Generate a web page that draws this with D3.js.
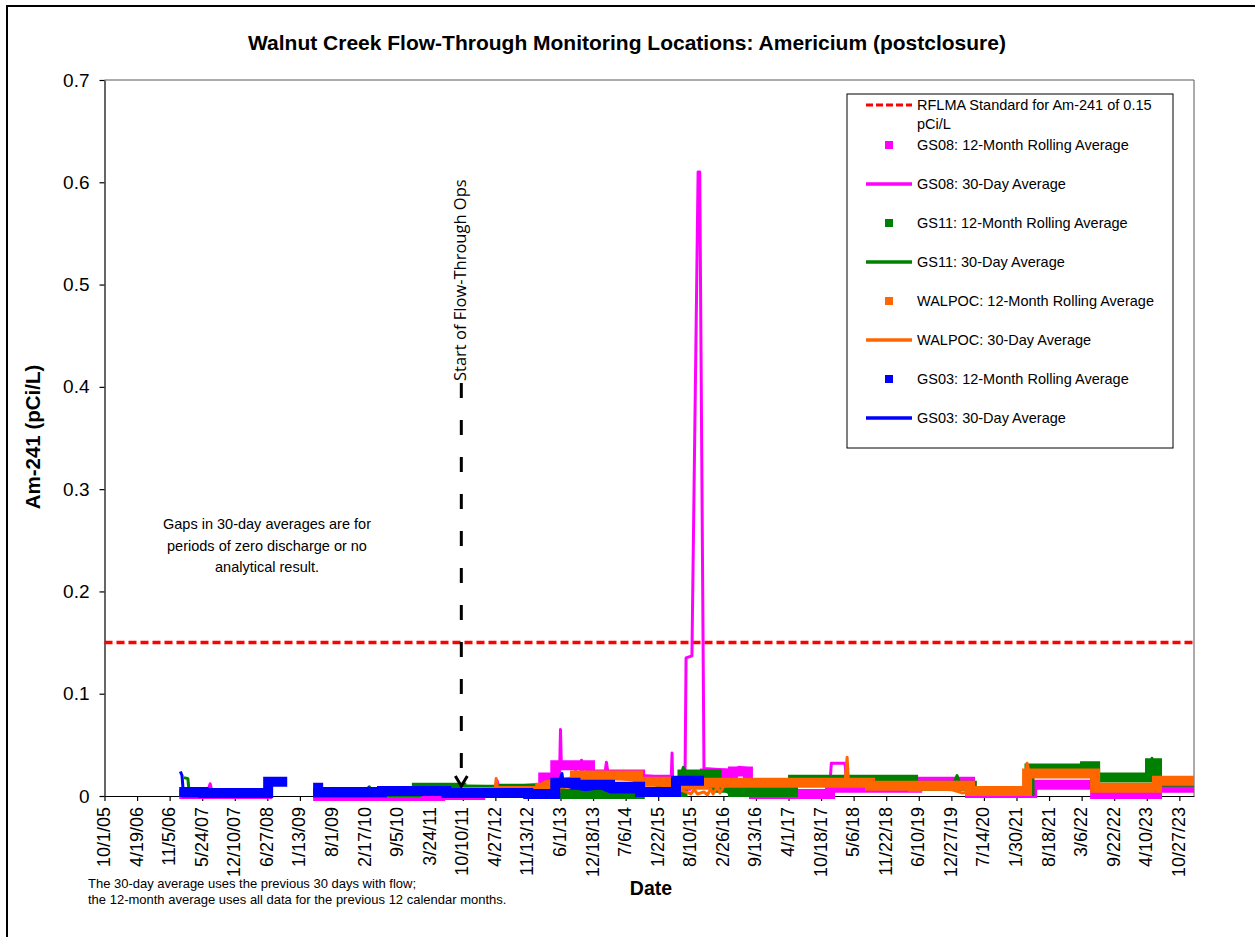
<!DOCTYPE html>
<html>
<head>
<meta charset="utf-8">
<script src="https://cdn.jsdelivr.net/npm/d3@7"></script>
<style>
  body { margin: 0; background: #fff; }
  svg { display: block; font-family: "Liberation Sans", Arial, sans-serif; }
</style>
</head>
<body>
<svg id="chart"></svg>
<script>
// Tick labels (every 200 days, as in the original)
const X_TICKS = ["10/1/05", "4/19/06", "11/5/06", "5/24/07", "12/10/07", "6/27/08", "1/13/09", "8/1/09",
  "2/17/10", "9/5/10", "3/24/11", "10/10/11", "4/27/12", "11/13/12", "6/1/13", "12/18/13", "7/6/14",
  "1/22/15", "8/10/15", "2/26/16", "9/13/16", "4/1/17", "10/18/17", "5/6/18", "11/22/18", "6/10/19",
  "12/27/19", "7/14/20", "1/30/21", "8/18/21", "3/6/22", "9/22/22", "4/10/23", "10/27/23"];
const Y_TICKS = [0, 0.1, 0.2, 0.3, 0.4, 0.5, 0.6, 0.7];
const X_DOMAIN = ["2005-10-01", "2024-01-25"];
const STANDARD = 0.15;
const FLOW_THROUGH_START = "2011-10-01";

// 12-month rolling averages: [start date, value] steps, null = gap
const gs08Roll = [["2007-01-03", 0.002], ["2008-07-27", null], ["2009-04-04", 0.000], ["2011-05-24", 0.001],
  ["2012-01-25", 0.004], ["2012-09-01", 0.006], ["2013-02-15", 0.018], ["2013-04-30", 0.030], ["2013-11-29", 0.021],
  ["2014-10-03", 0.016], ["2015-03-17", 0.010], ["2015-07-12", 0.012], ["2015-11-05", 0.022], ["2016-04-25", 0.024],
  ["2016-07-26", 0.012], ["2016-09-01", 0.002], ["2017-12-12", 0.008], ["2019-05-31", 0.014], ["2020-04-20", 0.003],
  ["2021-05-06", 0.011], ["2022-05-28", 0.002], ["2023-06-12", 0.008], ["2024-01-25", null]];
const gs11Roll = [["2007-01-20", 0.003], ["2008-07-27", null], ["2009-04-04", 0.003], ["2010-06-01", 0.004],
  ["2011-01-01", 0.008], ["2011-10-01", 0.006], ["2012-06-01", 0.007], ["2013-01-27", 0.005], ["2013-06-01", 0.002],
  ["2014-10-01", 0.004], ["2015-06-20", 0.021], ["2016-01-15", 0.008], ["2016-04-25", 0.004], ["2017-04-29", 0.016],
  ["2019-05-06", 0.010], ["2020-05-01", 0.005], ["2021-04-20", 0.027], ["2022-03-27", 0.029], ["2022-05-28", 0.018],
  ["2023-04-30", 0.032], ["2023-06-12", 0.014], ["2024-01-25", null]];
const walRoll = [["2011-10-01", 0.004], ["2012-06-01", 0.005], ["2013-01-27", 0.008], ["2013-05-01", 0.012],
  ["2013-08-29", 0.020], ["2014-09-20", 0.014], ["2015-03-17", 0.011], ["2015-10-30", 0.013], ["2017-04-10", 0.013],
  ["2018-08-15", 0.010], ["2019-05-06", 0.009], ["2019-05-31", 0.010], ["2020-04-20", 0.005], ["2021-04-05", 0.022],
  ["2022-05-28", 0.008], ["2023-06-12", 0.015], ["2024-01-25", null]];
const gs03Roll = [["2007-01-03", 0.004], ["2007-06-01", 0.003], ["2008-07-02", 0.014], ["2008-10-27", null],
  ["2009-04-04", 0.008], ["2009-05-05", 0.004], ["2010-06-01", 0.005], ["2011-07-01", 0.003], ["2012-11-15", 0.002],
  ["2013-04-30", 0.013], ["2013-09-01", 0.011], ["2014-04-01", 0.009], ["2014-10-03", 0.004], ["2015-05-11", 0.015],
  ["2015-10-30", null]];

// 30-day averages: [date, value] points, null = gap
const gs08Day = [["2007-06-25", 0.004], ["2007-07-12", 0.012], ["2007-07-22", 0.005], ["2007-08-15", 0.004], ["2007-09-01", null],
  ["2009-06-01", 0.001], ["2010-03-01", 0.001], ["2010-04-01", null],
  ["2012-04-20", 0.006], ["2012-05-08", 0.015], ["2012-05-20", 0.006], ["2012-07-01", null],
  ["2013-04-20", 0.012], ["2013-05-25", 0.012], ["2013-06-01", 0.065], ["2013-06-06", 0.032], ["2013-08-29", 0.032],
  ["2013-09-05", 0.020], ["2013-10-01", 0.020], ["2013-10-08", 0.035], ["2013-10-20", 0.022], ["2014-03-01", 0.022],
  ["2014-03-10", 0.033], ["2014-03-22", 0.020], ["2014-09-20", 0.018], ["2014-10-10", 0.020], ["2015-01-01", 0.019],
  ["2015-03-15", 0.017], ["2015-04-12", 0.017], ["2015-04-17", 0.042], ["2015-04-22", 0.005], ["2015-07-05", 0.004],
  ["2015-07-12", 0.135], ["2015-08-17", 0.137], ["2015-09-24", 0.61], ["2015-10-04", 0.61], ["2015-10-30", 0.027],
  ["2016-04-25", 0.025], ["2016-06-01", 0.028], ["2016-07-26", 0.027], ["2016-08-05", 0.006], ["2017-01-01", 0.004], ["2017-04-10", null],
  ["2017-11-01", 0.012], ["2017-12-12", 0.013], ["2017-12-20", 0.032], ["2018-03-14", 0.032], ["2018-03-25", 0.012],
  ["2018-07-01", 0.008], ["2018-08-01", null],
  ["2019-05-31", 0.014], ["2020-01-10", 0.014], ["2020-02-01", 0.016], ["2020-02-15", 0.012], ["2020-04-20", 0.009],
  ["2020-05-10", 0.004], ["2021-03-15", 0.004], ["2021-04-01", null],
  ["2021-05-06", 0.011], ["2022-05-28", 0.011], ["2022-06-10", 0.003], ["2023-05-01", 0.003], ["2023-06-01", null],
  ["2023-06-12", 0.008], ["2024-01-25", 0.008]];
const gs11Day = [["2007-02-01", 0.018], ["2007-02-25", 0.017], ["2007-03-05", 0.003], ["2008-07-01", 0.002], ["2008-07-20", null],
  ["2009-05-01", 0.004], ["2010-03-01", 0.005], ["2010-03-15", 0.009], ["2010-04-01", 0.005], ["2011-01-01", 0.007],
  ["2011-06-01", 0.010], ["2012-06-01", 0.009], ["2013-01-01", 0.011], ["2013-06-01", 0.003], ["2014-10-01", 0.003],
  ["2015-06-01", 0.015], ["2015-06-25", 0.028], ["2015-07-15", 0.020], ["2016-01-15", 0.006], ["2016-03-01", 0.006],
  ["2016-04-01", 0.003], ["2017-04-20", 0.003], ["2017-04-29", 0.016], ["2019-05-06", 0.015], ["2019-05-20", 0.010],
  ["2020-01-10", 0.012], ["2020-01-31", 0.020], ["2020-02-20", 0.011], ["2020-05-01", 0.005], ["2021-03-20", 0.003],
  ["2021-04-15", 0.027], ["2022-03-27", 0.029], ["2022-05-28", 0.018], ["2023-04-20", 0.018], ["2023-05-12", 0.037],
  ["2023-05-30", 0.020], ["2023-06-12", 0.013], ["2024-01-25", 0.013]];
const walDay = [["2011-10-01", 0.003], ["2012-04-25", 0.005], ["2012-05-02", 0.017], ["2012-05-12", 0.006],
  ["2013-01-01", 0.008], ["2013-03-01", 0.014], ["2013-08-29", 0.018], ["2014-01-01", 0.020], ["2014-09-20", 0.015],
  ["2015-03-17", 0.010], ["2015-07-12", 0.004], ["2015-08-10", 0.002], ["2015-09-01", 0.006], ["2015-09-20", 0.002],
  ["2015-10-30", 0.004], ["2015-11-20", 0.001], ["2015-12-10", 0.007], ["2015-12-25", 0.002], ["2016-01-20", 0.009],
  ["2016-02-05", 0.003], ["2016-03-01", 0.010], ["2016-04-01", 0.012], ["2017-04-10", 0.012], ["2018-03-14", 0.012],
  ["2018-03-27", 0.038], ["2018-04-05", 0.012], ["2019-05-06", 0.008], ["2020-01-01", 0.006], ["2020-03-01", 0.003],
  ["2020-04-20", 0.004], ["2021-03-24", 0.006], ["2021-04-05", 0.032], ["2021-04-20", 0.022], ["2022-05-28", 0.020],
  ["2022-06-10", 0.008], ["2023-06-01", 0.009], ["2023-06-12", 0.015], ["2024-01-25", 0.015]];
const gs03Day = [["2007-01-10", 0.024], ["2007-01-20", 0.020], ["2007-01-28", 0.003], ["2008-06-20", 0.002], ["2008-07-02", null],
  ["2009-04-10", 0.006], ["2009-05-10", 0.003], ["2010-03-01", 0.004], ["2010-03-10", 0.008], ["2010-03-25", 0.004],
  ["2011-05-01", 0.005], ["2011-09-01", 0.002], ["2012-12-01", 0.002], ["2013-05-10", 0.006], ["2013-06-10", 0.022],
  ["2013-06-20", 0.010], ["2013-11-01", 0.006], ["2014-02-01", 0.008], ["2014-04-01", 0.004], ["2015-04-01", 0.004],
  ["2015-05-01", 0.006], ["2015-06-01", 0.008], ["2015-06-20", null]];

// Series in legend (and drawing) order
const SERIES = [
  { name: "GS08: 12-Month Rolling Average", type: "roll", color: "#ff00ff", data: gs08Roll },
  { name: "GS08: 30-Day Average", type: "day", color: "#ff00ff", data: gs08Day },
  { name: "GS11: 12-Month Rolling Average", type: "roll", color: "#008000", data: gs11Roll },
  { name: "GS11: 30-Day Average", type: "day", color: "#008000", data: gs11Day },
  { name: "WALPOC: 12-Month Rolling Average", type: "roll", color: "#ff6600", data: walRoll },
  { name: "WALPOC: 30-Day Average", type: "day", color: "#ff6600", data: walDay },
  { name: "GS03: 12-Month Rolling Average", type: "roll", color: "#0000ff", data: gs03Roll },
  { name: "GS03: 30-Day Average", type: "day", color: "#0000ff", data: gs03Day }
];

// SVG constants
const WIDTH = 1255;
const HEIGHT = 937;
const PLOT = { left: 104.5, right: 1194, top: 80, bottom: 796 };
const FONT = "'Liberation Sans', Arial, sans-serif";

const parseDate = d3.timeParse("%Y-%m-%d");
const parseTick = d3.timeParse("%m/%d/%y");

const svg = d3.select("#chart")
  .attr("width", WIDTH)
  .attr("height", HEIGHT);

svg.append("rect").attr("width", WIDTH).attr("height", HEIGHT).attr("fill", "#fff");

// Outer chart border
svg.append("rect")
  .attr("x", 7).attr("y", 6)
  .attr("width", 1400).attr("height", 1100)
  .attr("fill", "none")
  .attr("stroke", "#000")
  .attr("stroke-width", 2);

// Scales
const xScale = d3.scaleTime()
  .domain(X_DOMAIN.map(parseDate))
  .range([PLOT.left, PLOT.right]);

const yScale = d3.scaleLinear()
  .domain([0, 0.7])
  .range([PLOT.bottom, PLOT.top]);

// Plot frame (top and right)
svg.append("path")
  .attr("d", `M${PLOT.left},${PLOT.top}H${PLOT.right}V${PLOT.bottom}`)
  .attr("fill", "none")
  .attr("stroke", "#595959")
  .attr("stroke-width", 1);

// Axes
const xAxis = svg.append("g")
  .attr("transform", `translate(0,${PLOT.bottom})`)
  .call(d3.axisBottom(xScale)
    .tickValues(X_TICKS.map(parseTick))
    .tickFormat((d, i) => X_TICKS[i])
    .tickSize(5)
    .tickSizeOuter(0));
xAxis.selectAll("text")
  .attr("transform", "rotate(-90)")
  .attr("x", -11)
  .attr("y", 0)
  .attr("dy", "0.28em")
  .attr("text-anchor", "end")
  .attr("font-family", FONT)
  .attr("font-size", 18)
  .attr("fill", "#000");

const yAxis = svg.append("g")
  .attr("transform", `translate(${PLOT.left},0)`)
  .call(d3.axisLeft(yScale)
    .tickValues(Y_TICKS)
    .tickFormat(d => d === 0 ? "0" : d.toFixed(1))
    .tickSize(5)
    .tickPadding(10)
    .tickSizeOuter(0));
yAxis.selectAll("text")
  .attr("font-family", FONT)
  .attr("font-size", 19)
  .attr("fill", "#000");

svg.selectAll(".domain, .tick line").attr("stroke", "#000").attr("stroke-width", 1.2);

// Line generators
const line = d3.line()
  .defined(d => d.v !== null)
  .x(d => xScale(d.date))
  .y(d => yScale(d.v));

// steps: each value holds until the next entry's date
function stepPoints(arr) {
  const pts = [];
  for (let i = 0; i < arr.length - 1; i++) {
    const v = arr[i][1];
    if (v === null) {
      pts.push({ date: parseDate(arr[i][0]), v: null });
      continue;
    }
    pts.push({ date: parseDate(arr[i][0]), v: v });
    pts.push({ date: parseDate(arr[i + 1][0]), v: v });
  }
  return pts;
}

function linePoints(arr) {
  return arr.map(d => ({ date: parseDate(d[0]), v: d[1] }));
}

// RFLMA standard
svg.append("line")
  .attr("x1", PLOT.left).attr("x2", PLOT.right)
  .attr("y1", yScale(STANDARD)).attr("y2", yScale(STANDARD))
  .attr("stroke", "#ff0000")
  .attr("stroke-width", 3.5)
  .attr("stroke-dasharray", "8,4");

// Draw series
SERIES.forEach(s => {
  svg.append("path")
    .datum(s.type === "roll" ? stepPoints(s.data) : linePoints(s.data))
    .attr("d", line)
    .attr("fill", "none")
    .attr("stroke", s.color)
    .attr("stroke-width", s.type === "roll" ? 10 : 3)
    .attr("stroke-linejoin", s.type === "roll" ? "miter" : "round")
    .attr("stroke-linecap", "butt");
});

// Start of flow-through ops marker
const fx = xScale(parseDate(FLOW_THROUGH_START));
svg.append("line")
  .attr("x1", fx).attr("x2", fx)
  .attr("y1", 383).attr("y2", 784)
  .attr("stroke", "#000")
  .attr("stroke-width", 3)
  .attr("stroke-dasharray", "15,22");
svg.append("path")
  .attr("d", `M${fx - 6},${776}L${fx},${786}L${fx + 6},${776}`)
  .attr("fill", "none")
  .attr("stroke", "#000")
  .attr("stroke-width", 3);
svg.append("text")
  .attr("transform", `translate(${fx + 5},381) rotate(-90)`)
  .attr("font-family", "'Open Sans', sans-serif")
  .attr("font-size", 16.5)
  .attr("fill", "#000")
  .text("Start of Flow-Through Ops");

// Title and axis titles
svg.append("text")
  .attr("x", 627).attr("y", 50)
  .attr("text-anchor", "middle")
  .attr("font-family", FONT)
  .attr("font-size", 21)
  .attr("font-weight", "bold")
  .text("Walnut Creek Flow-Through Monitoring Locations: Americium (postclosure)");

svg.append("text")
  .attr("transform", "translate(40,437) rotate(-90)")
  .attr("text-anchor", "middle")
  .attr("font-family", FONT)
  .attr("font-size", 20.5)
  .attr("font-weight", "bold")
  .text("Am-241 (pCi/L)");

svg.append("text")
  .attr("x", 651).attr("y", 895)
  .attr("text-anchor", "middle")
  .attr("font-family", FONT)
  .attr("font-size", 19.5)
  .attr("font-weight", "bold")
  .text("Date");

// Notes
const gaps = ["Gaps in 30-day averages are for", "periods of zero discharge or no", "analytical result."];
svg.append("text")
  .attr("font-family", FONT)
  .attr("font-size", 14.5)
  .attr("text-anchor", "middle")
  .selectAll("tspan")
  .data(gaps)
  .enter()
  .append("tspan")
  .attr("x", 267)
  .attr("y", (d, i) => 529 + i * 21.5)
  .text(d => d);

const foot = ["The 30-day average uses the previous 30 days with flow;",
  "the 12-month average uses all data for the previous 12 calendar months."];
svg.append("text")
  .attr("font-family", FONT)
  .attr("font-size", 13)
  .selectAll("tspan")
  .data(foot)
  .enter()
  .append("tspan")
  .attr("x", 88)
  .attr("y", (d, i) => 888 + i * 16)
  .text(d => d);

// Legend
const legend = svg.append("g");
legend.append("rect")
  .attr("x", 847).attr("y", 94)
  .attr("width", 326).attr("height", 354)
  .attr("fill", "#fff")
  .attr("stroke", "#000")
  .attr("stroke-width", 1);

legend.append("line")
  .attr("x1", 866).attr("x2", 912)
  .attr("y1", 105).attr("y2", 105)
  .attr("stroke", "#ff0000")
  .attr("stroke-width", 3)
  .attr("stroke-dasharray", "7,3");
legend.append("text")
  .attr("font-family", FONT)
  .attr("font-size", 14.5)
  .selectAll("tspan")
  .data(["RFLMA Standard for Am-241 of 0.15", "pCi/L"])
  .enter()
  .append("tspan")
  .attr("x", 917)
  .attr("y", (d, i) => 110 + i * 19)
  .text(d => d);

const items = legend.selectAll(".item")
  .data(SERIES)
  .enter()
  .append("g")
  .attr("class", "item")
  .attr("transform", (d, i) => `translate(0,${145 + i * 39})`);

items.filter(d => d.type === "roll")
  .append("rect")
  .attr("x", 885).attr("y", -4)
  .attr("width", 8).attr("height", 8)
  .attr("fill", d => d.color);

items.filter(d => d.type === "day")
  .append("line")
  .attr("x1", 866).attr("x2", 912)
  .attr("stroke", d => d.color)
  .attr("stroke-width", 3.5);

items.append("text")
  .attr("x", 917).attr("y", 5)
  .attr("font-family", FONT)
  .attr("font-size", 14.5)
  .text(d => d.name);
</script>
</body>
</html>
